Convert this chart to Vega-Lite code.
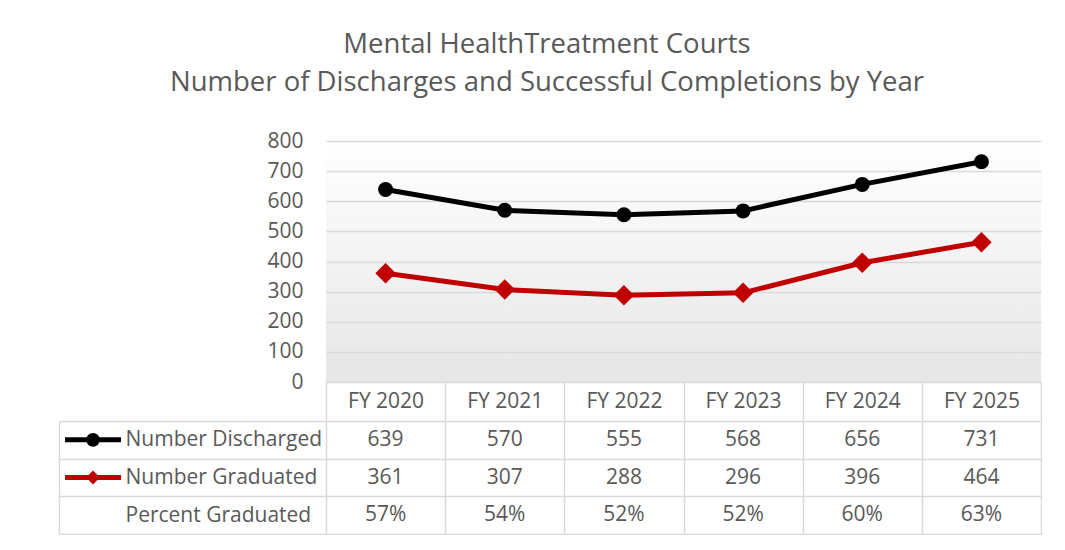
{
  "$schema": "https://vega.github.io/schema/vega-lite/v6.json",
  "background": "#ffffff",
  "padding": {"left": 58, "top": 30, "right": 0, "bottom": 0},
  "config": {"font": "Open Sans", "view": {"stroke": null}},
  "title": {
    "text": ["Mental HealthTreatment Courts", "Number of Discharges and Successful Completions by Year"],
    "font": "Open Sans",
    "fontSize": 27.5,
    "fontWeight": "normal",
    "color": "#595959",
    "lineHeight": 38,
    "anchor": "middle",
    "dx": -3,
    "offset": 34
  },
  "datasets": {
    "years": [
      {"year": "FY 2020", "discharged": 639, "graduated": 361, "percent": 0.57},
      {"year": "FY 2021", "discharged": 570, "graduated": 307, "percent": 0.54},
      {"year": "FY 2022", "discharged": 555, "graduated": 288, "percent": 0.52},
      {"year": "FY 2023", "discharged": 568, "graduated": 296, "percent": 0.52},
      {"year": "FY 2024", "discharged": 656, "graduated": 396, "percent": 0.60},
      {"year": "FY 2025", "discharged": 731, "graduated": 464, "percent": 0.63}
    ],
    "series": [
      {"series": "Number Discharged"},
      {"series": "Number Graduated"}
    ]
  },
  "data": {"name": "years"},
  "spacing": -13,
  "vconcat": [
    {
      "width": 715,
      "height": 241,
      "view": {
        "stroke": null,
        "fill": {"gradient": "linear", "x1": 0, "y1": 0, "x2": 0, "y2": 1,
          "stops": [{"offset": 0, "color": "#ffffff"}, {"offset": 1, "color": "#e6e6e6"}]}
      },
      "encoding": {
        "x": {
          "field": "year", "type": "nominal",
          "scale": {"type": "band", "paddingInner": 0, "paddingOuter": 0},
          "axis": {
            "title": null, "orient": "bottom", "domain": false, "grid": false,
            "ticks": true, "tickBand": "extent", "tickSize": 38, "tickColor": "#d9d9d9", "tickWidth": 1.5,
            "labelFont": "Open Sans", "labelFontSize": 21, "labelColor": "#595959",
            "labelAngle": 0, "labelPadding": -19, "labelBaseline": "middle",
            "minExtent": 38, "maxExtent": 38
          }
        },
        "y": {
          "type": "quantitative",
          "scale": {"domain": [0, 800]},
          "axis": {
            "title": null, "values": [0, 100, 200, 300, 400, 500, 600, 700, 800], "tickCount": 12, "labelOverlap": false,
            "domain": false, "ticks": false, "grid": true, "gridColor": "#d9d9d9", "gridWidth": 1.5,
            "labelFont": "Open Sans", "labelFontSize": 21, "labelColor": "#595959", "labelPadding": 23
          }
        }
      },
      "layer": [
        {
          "mark": {"type": "line", "color": "#000000", "strokeWidth": 5},
          "encoding": {"y": {"field": "discharged"}}
        },
        {
          "mark": {"type": "line", "color": "#C00000", "strokeWidth": 5},
          "encoding": {"y": {"field": "graduated"}}
        },
        {
          "mark": {"type": "point", "shape": "circle", "filled": true, "size": 225, "color": "#000000", "opacity": 1},
          "encoding": {"y": {"field": "discharged"}}
        },
        {
          "mark": {"type": "point", "shape": "diamond", "filled": true, "size": 420, "color": "#C00000", "opacity": 1},
          "encoding": {"y": {"field": "graduated"}}
        }
      ]
    },
    {
      "width": 715,
      "height": 113,
      "view": {"stroke": null},
      "resolve": {"scale": {"x": "independent"}},
      "layer": [
        {
          "encoding": {
            "x": {
              "field": "year", "type": "nominal",
              "scale": {"type": "band", "paddingInner": 0, "paddingOuter": 0},
              "axis": {
                "title": null, "orient": "bottom", "labels": false, "ticks": false, "domain": false,
                "grid": true, "tickBand": "extent", "gridColor": "#d9d9d9", "gridWidth": 1.5
              }
            }
          },
          "layer": [
            {
              "mark": {"type": "text", "font": "Open Sans", "fontSize": 21, "color": "#595959"},
              "encoding": {
                "y": {
                  "datum": "Number Discharged", "type": "nominal",
                  "scale": {"domain": ["Number Discharged", "Number Graduated", "Percent Graduated"], "paddingInner": 0, "paddingOuter": 0},
                  "axis": {
                    "title": null, "orient": "left", "offset": 267,
                    "domain": true, "domainColor": "#d9d9d9", "domainWidth": 1.5,
                    "ticks": true, "tickBand": "extent", "tickSize": -267, "tickColor": "#d9d9d9", "tickWidth": 1.5,
                    "grid": true, "gridColor": "#d9d9d9", "gridWidth": 1.5,
                    "labelAlign": "left", "labelBaseline": "middle", "labelPadding": 201, "labelLimit": 0,
                    "labelFont": "Open Sans", "labelFontSize": 21, "labelColor": "#595959"
                  }
                },
                "text": {"field": "discharged", "type": "quantitative"}
              }
            },
            {
              "mark": {"type": "text", "font": "Open Sans", "fontSize": 21, "color": "#595959"},
              "encoding": {
                "y": {"datum": "Number Graduated", "type": "nominal"},
                "text": {"field": "graduated", "type": "quantitative"}
              }
            },
            {
              "mark": {"type": "text", "font": "Open Sans", "fontSize": 21, "color": "#595959"},
              "encoding": {
                "y": {"datum": "Percent Graduated", "type": "nominal"},
                "text": {"field": "percent", "type": "quantitative", "format": ".0%"}
              }
            }
          ]
        },
        {
          "data": {"name": "series"},
          "mark": {"type": "rule", "strokeWidth": 5},
          "encoding": {
            "x": {"datum": 0, "type": "quantitative", "scale": {"domain": [0, 2], "range": [-261, -205]}, "axis": null},
            "x2": {"datum": 2},
            "y": {"field": "series", "type": "nominal"},
            "color": {"field": "series", "type": "nominal", "scale": {"domain": ["Number Discharged", "Number Graduated"], "range": ["#000000", "#C00000"]}, "legend": null}
          }
        },
        {
          "data": {"name": "series"},
          "mark": {"type": "point", "filled": true, "opacity": 1, "size": 190},
          "encoding": {
            "x": {"datum": 1, "type": "quantitative", "scale": {"domain": [0, 2], "range": [-261, -205]}, "axis": null},
            "y": {"field": "series", "type": "nominal"},
            "color": {"field": "series", "type": "nominal", "legend": null},
            "shape": {"field": "series", "type": "nominal", "scale": {"domain": ["Number Discharged", "Number Graduated"], "range": ["circle", "diamond"]}, "legend": null}
          }
        }
      ]
    }
  ]
}
